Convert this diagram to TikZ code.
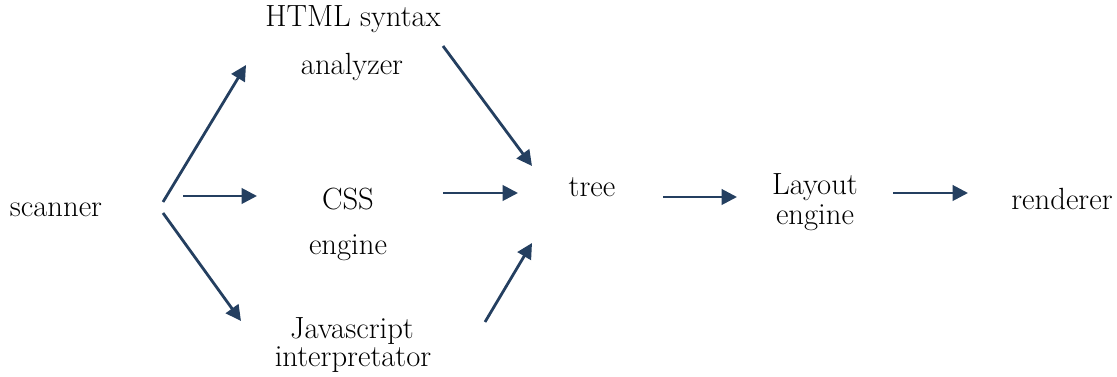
\documentclass[tikz,border=0pt]{standalone}
\usetikzlibrary{arrows.meta}
\definecolor{arrowblue}{HTML}{243F60}
\begin{document}
\begin{tikzpicture}[x=0.75pt,y=-0.75pt,
  lbl/.style={anchor=base,inner sep=0pt,font=\fontsize{23}{27}\selectfont},
  flow/.style={draw=arrowblue,line width=2.1pt,
    -{Triangle[length=11.5pt,width=11.5pt]}}]
\useasboundingbox (0,0) rectangle (1117,377);

% labels (placed by baseline)
\node[lbl] (scanner) at (56,217) {scanner};
\node[lbl] (html1) at (353,27) {HTML syntax};
\node[lbl] (html2) at (352,75) {analyzer};
\node[lbl] (css1) at (348,210) {CSS};
\node[lbl] (css2) at (348,255) {engine};
\node[lbl] (js1) at (352,339) {Javascript};
\node[lbl] (js2) at (353,367) {interpretator};
\node[lbl] (tree) at (592,197) {tree};
\node[lbl] (lay1) at (815,195) {Layout};
\node[lbl] (lay2) at (815,225) {engine};
\node[lbl] (rend) at (1062,210) {renderer};

% arrow end points
\coordinate (sA) at (163,202);
\coordinate (sB) at (183,196);
\coordinate (sC) at (163,213);
\coordinate (hIn) at (246,65);
\coordinate (cIn) at (257,196);
\coordinate (jIn) at (241,321);
\coordinate (hOut) at (443,46);
\coordinate (cOut) at (443,193);
\coordinate (jOut) at (485,322);
\coordinate (tInA) at (532,166);
\coordinate (tInB) at (518,193);
\coordinate (tInC) at (532,243);
\coordinate (tOut) at (663,197);
\coordinate (lIn) at (737,197);
\coordinate (lOut) at (893,193);
\coordinate (rIn) at (968,193);

% connectors
\draw[flow] (sA) -- (hIn);
\draw[flow] (sB) -- (cIn);
\draw[flow] (sC) -- (jIn);
\draw[flow] (hOut) -- (tInA);
\draw[flow] (cOut) -- (tInB);
\draw[flow] (jOut) -- (tInC);
\draw[flow] (tOut) -- (lIn);
\draw[flow] (lOut) -- (rIn);
\end{tikzpicture}
\end{document}
